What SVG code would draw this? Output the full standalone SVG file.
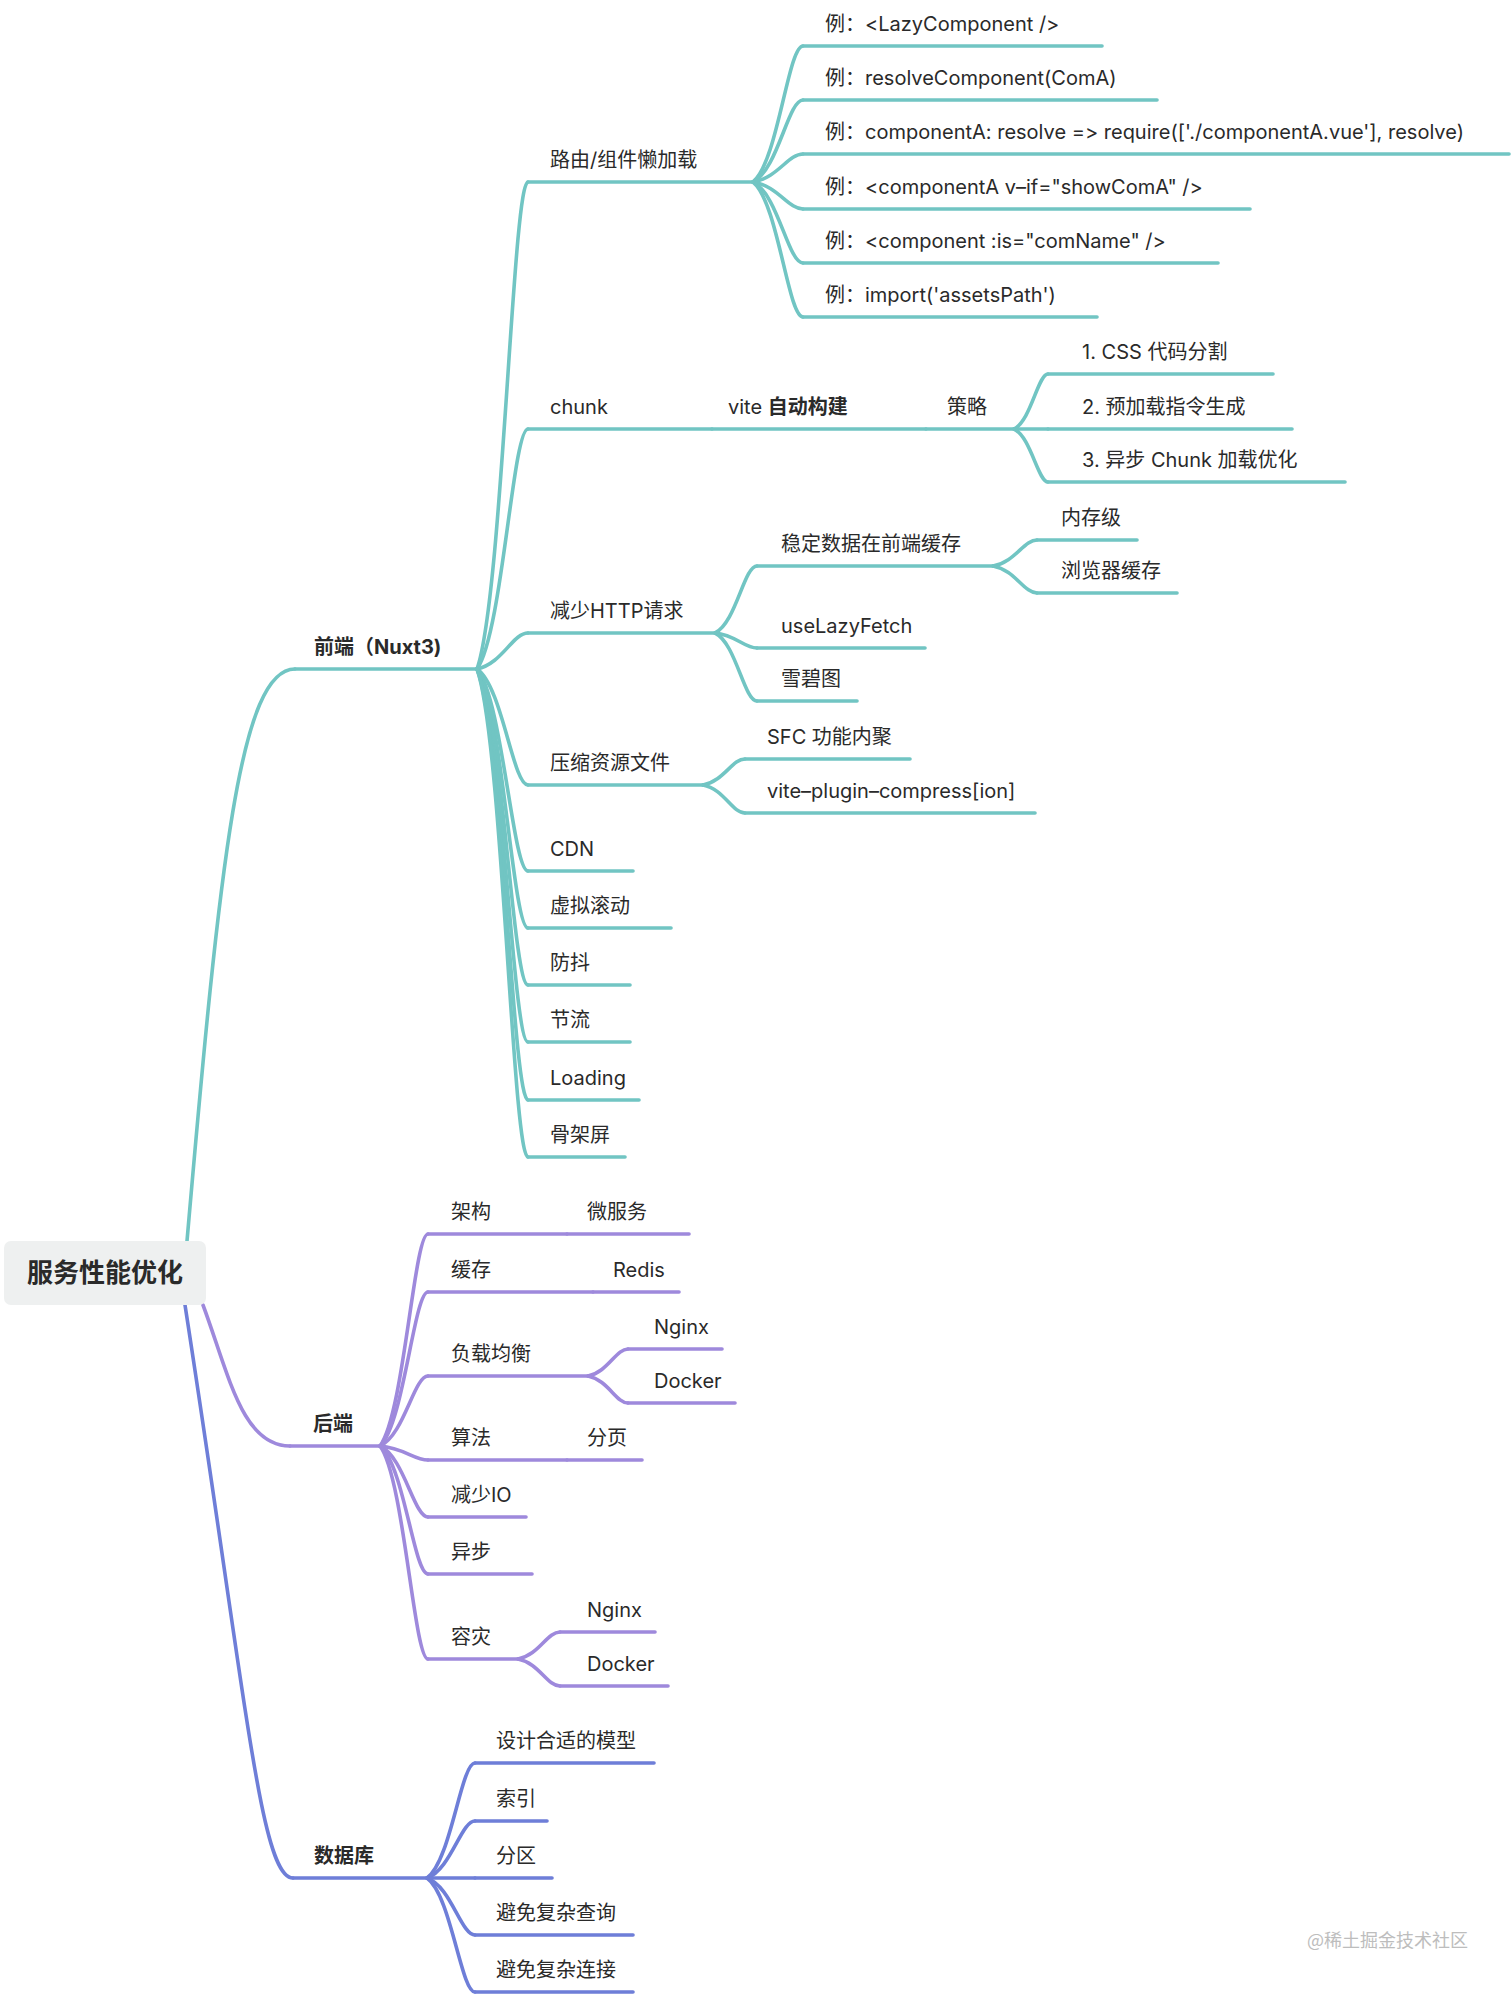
<svg xmlns="http://www.w3.org/2000/svg" width="1512" height="1996" viewBox="0 0 1512 1996">
<style>
text{font-family:Inter,"Noto Sans CJK SC",sans-serif;font-size:20px;fill:#2a2a2a;font-variant-ligatures:none;font-feature-settings:"liga" 0,"calt" 0,"dlig" 0}
.h{font-weight:bold}
.root{font-size:26px;font-weight:bold;text-anchor:middle}
.wm{font-size:18px;fill:#bdbdbd;font-family:"Noto Sans CJK SC",sans-serif}
path{fill:none;stroke-width:3.6;stroke-linecap:round;stroke-linejoin:round}
.t path,path.t{stroke:#71C5C3}
.p path,path.p{stroke:#9E89DC}
.b path,path.b{stroke:#6E7ED8}
</style>
<rect width="1512" height="1996" fill="#ffffff"/>
<g id="connectors">
<g class="t">
<path d="M187,1241 C220,860 240,669 295,669"/>
<path d="M477,669 C502.5,596 512.7,182 528,182"/>
<path d="M477,669 C502.5,633 512.7,429 528,429"/>
<path d="M477,669 C502.5,663.6 512.7,633 528,633"/>
<path d="M477,669 C502.5,686.4 512.7,785 528,785"/>
<path d="M477,669 C502.5,699 512.7,871 528,871"/>
<path d="M477,669 C502.5,708 512.7,928 528,928"/>
<path d="M477,669 C502.5,716 512.7,985 528,985"/>
<path d="M477,669 C502.5,725 512.7,1042 528,1042"/>
<path d="M477,669 C502.5,734 512.7,1100 528,1100"/>
<path d="M477,669 C502.5,742 512.7,1157 528,1157"/>
<path d="M753,182 C778,161.6 788,46 803,46"/>
<path d="M753,182 C778,169.7 788,100 803,100"/>
<path d="M753,182 C778,177.8 788,154 803,154"/>
<path d="M753,182 C778,186 788,209 803,209"/>
<path d="M753,182 C778,194 788,263 803,263"/>
<path d="M753,182 C778,202 788,317 803,317"/>
<path d="M1014,429 C1031,420.75 1038,374 1048,374"/>
<path d="M1014,429 L1048,429"/>
<path d="M1014,429 C1031,437 1038,482 1048,482"/>
<path d="M715,633 C736,623 744,566 757,566"/>
<path d="M715,633 C736,635 744,648 757,648"/>
<path d="M715,633 C736,643 744,701 757,701"/>
<path d="M993,566 C1015,562 1024,540 1037,540"/>
<path d="M993,566 C1015,570 1024,593 1037,593"/>
<path d="M703,785 C724,781 732,759 745,759"/>
<path d="M703,785 C724,789 732,813 745,813"/>
</g>
<g class="p">
<path d="M203,1305 C229,1375 242,1446 290,1446"/>
<path d="M380,1446 C404,1414 414,1234 428,1234"/>
<path d="M380,1446 C404,1423 414,1292 428,1292"/>
<path d="M380,1446 C404,1435.5 414,1376 428,1376"/>
<path d="M380,1446 C404,1448 414,1460 428,1460"/>
<path d="M380,1446 C404,1457 414,1517 428,1517"/>
<path d="M380,1446 C404,1465 414,1574 428,1574"/>
<path d="M380,1446 C404,1478 414,1659 428,1659"/>
<path d="M588,1376 C608,1372 616,1349 628,1349"/>
<path d="M588,1376 C608,1380 616,1403 628,1403"/>
<path d="M518,1659 C539,1655 547,1632 560,1632"/>
<path d="M518,1659 C539,1663 547,1686 560,1686"/>
</g>
<g class="b">
<path d="M185,1305 C247,1706 261,1878 293,1878"/>
<path d="M427,1878 C451,1861 461,1763 475,1763"/>
<path d="M427,1878 C451,1869.5 461,1821 475,1821"/>
<path d="M427,1878 L475,1878"/>
<path d="M427,1878 C451,1886.5 461,1935 475,1935"/>
<path d="M427,1878 C451,1895 461,1992 475,1992"/>
</g>
</g>

<g id="root">
<rect x="4" y="1241" width="202" height="64" rx="7" fill="#EEF0F0"/>
<text class="root" x="105" y="1282">服务性能优化</text>
</g>

<g id="frontend" class="t"><path d="M295,669 H477"/><text class="h" x="314" y="654">前端（Nuxt3)</text></g>
<g id="lazy" class="t"><path d="M528,182 H753"/><text x="550" y="167">路由/组件懒加载</text></g>
<g id="ex1" class="t"><path d="M803,46 H1102"/><text x="825" y="31">例：&lt;LazyComponent /&gt;</text></g>
<g id="ex2" class="t"><path d="M803,100 H1157"/><text x="825" y="85">例：resolveComponent(ComA)</text></g>
<g id="ex3" class="t"><path d="M803,154 H1509"/><text x="825" y="139">例：componentA: resolve =&gt; require(['./componentA.vue'], resolve)</text></g>
<g id="ex4" class="t"><path d="M803,209 H1250"/><text x="825" y="194">例：&lt;componentA v–if="showComA" /&gt;</text></g>
<g id="ex5" class="t"><path d="M803,263 H1218"/><text x="825" y="248">例：&lt;component :is="comName" /&gt;</text></g>
<g id="ex6" class="t"><path d="M803,317 H1097"/><text x="825" y="302">例：import('assetsPath')</text></g>
<g id="chunk" class="t"><path d="M528,429 H712"/><text x="550" y="414">chunk</text></g>
<g id="vite" class="t"><path d="M712,429 H926"/><text x="728" y="414">vite <tspan class="h">自动构建</tspan></text></g>
<g id="strategy" class="t"><path d="M926,429 H1014"/><text x="947" y="414">策略</text></g>
<g id="s1" class="t"><path d="M1048,374 H1273"/><text x="1082" y="359">1. CSS 代码分割</text></g>
<g id="s2" class="t"><path d="M1048,429 H1292"/><text x="1082" y="414">2. 预加载指令生成</text></g>
<g id="s3" class="t"><path d="M1048,482 H1345"/><text x="1082" y="467">3. 异步 Chunk 加载优化</text></g>
<g id="http" class="t"><path d="M528,633 H715"/><text x="550" y="618">减少HTTP请求</text></g>
<g id="cache" class="t"><path d="M757,566 H993"/><text x="781" y="551">稳定数据在前端缓存</text></g>
<g id="mem" class="t"><path d="M1037,540 H1137"/><text x="1061" y="525">内存级</text></g>
<g id="browser" class="t"><path d="M1037,593 H1177"/><text x="1061" y="578">浏览器缓存</text></g>
<g id="lazyfetch" class="t"><path d="M757,648 H925"/><text x="781" y="633">useLazyFetch</text></g>
<g id="sprite" class="t"><path d="M757,701 H857"/><text x="781" y="686">雪碧图</text></g>
<g id="compress" class="t"><path d="M528,785 H703"/><text x="550" y="770">压缩资源文件</text></g>
<g id="sfc" class="t"><path d="M745,759 H910"/><text x="767" y="744">SFC 功能内聚</text></g>
<g id="vpc" class="t"><path d="M745,813 H1035"/><text x="767" y="798">vite–plugin–compress[ion]</text></g>
<g id="cdn" class="t"><path d="M528,871 H633"/><text x="550" y="856">CDN</text></g>
<g id="vscroll" class="t"><path d="M528,928 H671"/><text x="550" y="913">虚拟滚动</text></g>
<g id="debounce" class="t"><path d="M528,985 H630"/><text x="550" y="970">防抖</text></g>
<g id="throttle" class="t"><path d="M528,1042 H630"/><text x="550" y="1027">节流</text></g>
<g id="loading" class="t"><path d="M528,1100 H639"/><text x="550" y="1085">Loading</text></g>
<g id="skeleton" class="t"><path d="M528,1157 H625"/><text x="550" y="1142">骨架屏</text></g>

<g id="backend" class="p"><path d="M290,1446 H380"/><text class="h" x="313" y="1431">后端</text></g>
<g id="arch" class="p"><path d="M428,1234 H567"/><text x="451" y="1219">架构</text></g>
<g id="micro" class="p"><path d="M567,1234 H689"/><text x="587" y="1219">微服务</text></g>
<g id="bcache" class="p"><path d="M428,1292 H593"/><text x="451" y="1277">缓存</text></g>
<g id="redis" class="p"><path d="M593,1292 H679"/><text x="613" y="1277">Redis</text></g>
<g id="lb" class="p"><path d="M428,1376 H588"/><text x="451" y="1361">负载均衡</text></g>
<g id="lbnginx" class="p"><path d="M628,1349 H722"/><text x="654" y="1334">Nginx</text></g>
<g id="lbdocker" class="p"><path d="M628,1403 H735"/><text x="654" y="1388">Docker</text></g>
<g id="algo" class="p"><path d="M428,1460 H567"/><text x="451" y="1445">算法</text></g>
<g id="paging" class="p"><path d="M567,1460 H642"/><text x="587" y="1445">分页</text></g>
<g id="io" class="p"><path d="M428,1517 H526"/><text x="451" y="1502">减少IO</text></g>
<g id="async" class="p"><path d="M428,1574 H532"/><text x="451" y="1559">异步</text></g>
<g id="dr" class="p"><path d="M428,1659 H518"/><text x="451" y="1644">容灾</text></g>
<g id="drnginx" class="p"><path d="M560,1632 H655"/><text x="587" y="1617">Nginx</text></g>
<g id="drdocker" class="p"><path d="M560,1686 H668"/><text x="587" y="1671">Docker</text></g>

<g id="db" class="b"><path d="M293,1878 H427"/><text class="h" x="314" y="1863">数据库</text></g>
<g id="model" class="b"><path d="M475,1763 H654"/><text x="496" y="1748">设计合适的模型</text></g>
<g id="index" class="b"><path d="M475,1821 H547"/><text x="496" y="1806">索引</text></g>
<g id="partition" class="b"><path d="M475,1878 H552"/><text x="496" y="1863">分区</text></g>
<g id="query" class="b"><path d="M475,1935 H633"/><text x="496" y="1920">避免复杂查询</text></g>
<g id="join" class="b"><path d="M475,1992 H633"/><text x="496" y="1977">避免复杂连接</text></g>

<text class="wm" x="1307" y="1947">@稀土掘金技术社区</text>
</svg>
